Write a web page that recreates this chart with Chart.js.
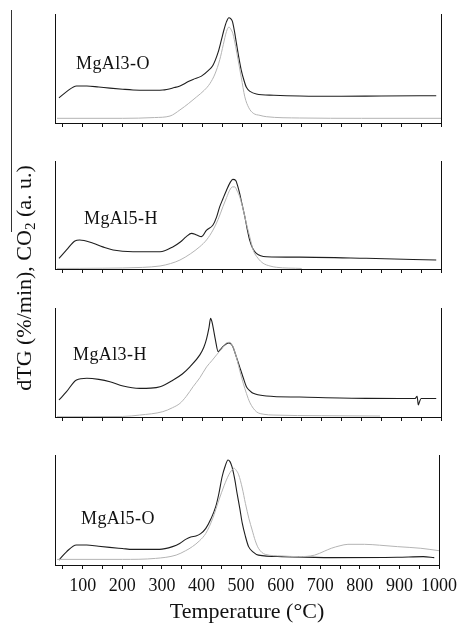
<!DOCTYPE html>
<html>
<head>
<meta charset="utf-8">
<script src="https://cdn.jsdelivr.net/npm/chart.js@4.4.1/dist/chart.umd.min.js"></script>
<style>
  body { margin: 0; background: #fff; }
  #fig { position: relative; width: 463px; height: 623px; overflow: hidden; font-family: "Liberation Serif", serif; }
  #fig canvas { position: absolute; left: 0; }
  #ytitle {
    position: absolute; left: 24px; top: 278px; white-space: nowrap;
    transform: translate(-50%, -50%) rotate(-90deg);
    font-size: 22px; color: #111;
  }
  #ytitle sub { font-size: 15px; vertical-align: -4px; line-height: 0; }
  #edge { position: absolute; left: 11px; top: 10px; width: 0; height: 222px; border-left: 1px solid #333; }
</style>
</head>
<body>
<div id="fig">
  <canvas id="p1" width="463" height="121" style="top:10px"></canvas>
  <canvas id="p2" width="463" height="120" style="top:157px"></canvas>
  <canvas id="p3" width="463" height="121" style="top:304px"></canvas>
  <canvas id="p4" width="463" height="172" style="top:451px"></canvas>
  <div id="edge"></div>
  <div id="ytitle">dTG (%/min), CO<sub>2</sub> (a. u.)</div>
</div>
<script>
// curves are scaled 0-100 within each panel (arbitrary units)

// MgAl3-O
const t3O_dtg = [40, 60, 84, 110, 140, 168, 200, 226, 260, 301, 330, 344, 365, 377, 398, 415, 427, 440, 448, 455, 461, 467, 472, 476, 481, 486, 492, 498, 505, 511, 520, 536, 580, 645, 750, 850, 988];
const v3O_dtg = [23, 29, 34, 34, 33, 32, 31, 30.3, 30, 30.3, 32.5, 34, 38, 40, 43, 48, 53, 65, 76, 86, 93, 96.6, 95.5, 93, 84, 73, 60, 48.6, 39, 32.7, 29, 26.6, 25.5, 24.8, 24.5, 24.8, 25];
const t3O_co2 = [35, 200, 280, 319, 344, 366, 386, 405, 419, 432, 444, 453, 461, 467, 472, 477, 484, 490, 498, 507, 517, 528, 545, 561, 645, 800, 1000];
const v3O_co2 = [4.3, 4.3, 5, 6.4, 12, 18, 24, 30, 36, 45, 58, 72, 84, 88, 86, 82, 70, 58, 42, 24, 14, 9, 7, 5.8, 4.6, 4.3, 4.3];

// MgAl5-H
const t5H_dtg = [40, 59, 80, 92, 126, 150, 176, 226, 294, 327, 345, 360, 373, 386, 398, 411, 427, 436, 444, 452, 461, 470, 477, 484, 489, 494, 500, 507, 513, 519, 527, 536, 561, 645, 812, 988];
const v5H_dtg = [9.9, 17.6, 26, 26.9, 23.8, 20.5, 17.6, 16, 16, 20.7, 25, 30, 33, 31.5, 30, 36, 40.7, 48, 57.7, 65, 73, 80, 83, 82, 77, 70, 60, 48.5, 37, 26.9, 19, 14.5, 11.4, 11, 9.9, 8.3];
const t5H_co2 = [35, 150, 250, 294, 320, 344, 370, 394, 411, 427, 440, 452, 461, 469, 476, 482, 488, 494, 503, 511, 520, 528, 540, 553, 570, 586, 650];
const v5H_co2 = [0.5, 0.7, 1.5, 2.8, 5, 8.3, 14, 20.7, 27, 36, 46, 57.7, 66, 73, 76, 76, 72, 67, 55, 42, 29, 17.6, 10, 5.3, 2.8, 1.6, 0.5];

// MgAl3-H
const t3H_dtg = [40, 59, 84, 110, 140, 168, 201, 243, 270, 294, 327, 350, 369, 394, 404, 411, 417, 421, 424, 427, 433, 440, 446, 452, 460, 467, 472, 477, 485, 494, 503, 511, 520, 528, 561, 645, 812, 935, 940, 943, 946, 950, 988];
const v3H_dtg = [15.6, 23.2, 34, 35.5, 34.5, 32.4, 28.4, 26.3, 26.5, 27.8, 34, 39.5, 46, 57, 64, 72, 82, 90.5, 88, 83, 71, 60, 62, 64.5, 67, 68, 67, 64.5, 56, 46, 36, 27.8, 24, 21.7, 19.3, 18.3, 17.1, 17, 19, 11, 14, 17, 17];
const t3H_co2 = [35, 200, 243, 301, 325, 344, 360, 377, 394, 411, 425, 436, 450, 461, 469, 477, 485, 494, 503, 511, 520, 536, 555, 578, 700, 847];
const v3H_co2 = [0.3, 0.5, 1.8, 4.9, 8.5, 12.5, 19, 27.8, 36, 46, 52, 57, 63, 68, 68.5, 64.5, 56, 43, 31, 21.7, 13, 4.9, 2.5, 1.8, 1.2, 0.9];

// MgAl5-O
const t5O_dtg = [40, 59, 84, 110, 140, 168, 200, 226, 294, 327, 345, 360, 373, 386, 398, 411, 424, 436, 444, 452, 460, 467, 472, 477, 484, 490, 497, 503, 511, 519, 530, 544, 603, 728, 895, 960, 988];
const v5O_dtg = [4.5, 12, 18.2, 18.2, 17, 16, 15, 14.2, 14.2, 16.7, 19.5, 23.3, 25.5, 26.4, 28.5, 33.3, 42, 53, 65, 80, 90, 95.5, 94, 89.4, 78, 65, 51, 38, 26, 16.7, 12, 9, 7.6, 6.7, 7, 7.6, 6.7];
const t5O_co2 = [35, 200, 284, 336, 360, 377, 395, 411, 428, 444, 457, 469, 476, 482, 488, 494, 503, 511, 520, 528, 536, 544, 561, 603, 645, 686, 710, 728, 750, 770, 812, 850, 895, 954, 1000];
const v5O_co2 = [5.1, 5.1, 6, 9, 13, 16.7, 22, 28.8, 42, 59, 72, 82, 86, 88, 86, 82, 70, 56, 42, 31.8, 22, 15.2, 9.7, 8.2, 7.6, 9, 12.5, 15.2, 17.5, 18.8, 18.8, 18, 16.7, 15.2, 13];

const sampleNames = ["MgAl3-O", "MgAl5-H", "MgAl3-H", "MgAl5-O"];
const xMin = 30, xMax = 1000;
const xTickValues = [50, 100, 150, 200, 250, 300, 350, 400, 450, 500, 550, 600, 650, 700, 750, 800, 850, 900, 950, 1000];

const SERIF = '"Liberation Serif", "Times New Roman", serif';

function pares(ts, vs) {
  return ts.map((t, i) => ({ x: t, y: vs[i] }));
}

// panel name written inside the plot area
const nomePlugin = {
  id: "nome",
  afterDatasetsDraw(chart, args, opts) {
    const ctx = chart.ctx;
    ctx.save();
    ctx.font = "18px " + SERIF;
    ctx.letterSpacing = "0.4px";
    ctx.fillStyle = "#111";
    ctx.textBaseline = "middle";
    ctx.fillText(opts.text, chart.chartArea.left + opts.dx, chart.chartArea.top + opts.dy);
    ctx.restore();
  }
};

function gerarPainel(id, nome, dtg, co2, pos, ultimo) {
  const ctx = document.getElementById(id).getContext("2d");
  new Chart(ctx, {
    type: "line",
    data: {
      datasets: [
        { label: "CO2", data: co2, borderColor: "#b4b4b4", borderWidth: 1, pointRadius: 0, cubicInterpolationMode: "monotone" },
        { label: "dTG", data: dtg, borderColor: "#1e1e1e", borderWidth: 1.1, pointRadius: 0, cubicInterpolationMode: "monotone" }
      ]
    },
    options: {
      responsive: false,
      animation: false,
      layout: { padding: { left: 55, right: 22, top: 4, bottom: 0 } },
      plugins: {
        legend: { display: false },
        tooltip: { enabled: false },
        nome: { text: nome, dx: pos[0], dy: pos[1] }
      },
      scales: {
        x: {
          type: "linear",
          min: xMin,
          max: xMax,
          afterBuildTicks: s => { s.ticks = xTickValues.map(v => ({ value: v })); },
          afterFit: s => { s.height = ultimo ? 58 : 8; },
          border: { display: true, color: "#111", width: 1 },
          grid: { drawOnChartArea: false, drawTicks: true, tickLength: 4, color: "#111" },
          ticks: {
            display: ultimo,
            autoSkip: false,
            maxRotation: 0,
            padding: 6,
            color: "#111",
            font: { family: SERIF, size: 18 },
            callback: v => (v % 100 === 0 ? String(v) : "")
          },
          title: {
            display: ultimo,
            text: "Temperature (°C)",
            color: "#111",
            padding: { top: 0, bottom: 0 },
            font: { family: SERIF, size: 22, lineHeight: 1 }
          }
        },
        y: {
          position: "left",
          min: 0,
          max: 100,
          afterFit: s => { s.width = 0; },
          border: { display: true, color: "#111", width: 1 },
          grid: { drawOnChartArea: false, drawTicks: false },
          ticks: { display: false }
        },
        y2: {
          position: "right",
          min: 0,
          max: 100,
          afterFit: s => { s.width = 0; },
          border: { display: true, color: "#111", width: 1 },
          grid: { drawOnChartArea: false, drawTicks: false },
          ticks: { display: false }
        }
      }
    },
    plugins: [nomePlugin]
  });
}

window.addEventListener("DOMContentLoaded", () => {
  gerarPainel("p1", sampleNames[0], pares(t3O_dtg, v3O_dtg), pares(t3O_co2, v3O_co2), [21, 50], false);
  gerarPainel("p2", sampleNames[1], pares(t5H_dtg, v5H_dtg), pares(t5H_co2, v5H_co2), [29, 58], false);
  gerarPainel("p3", sampleNames[2], pares(t3H_dtg, v3H_dtg), pares(t3H_co2, v3H_co2), [18, 47], false);
  gerarPainel("p4", sampleNames[3], pares(t5O_dtg, v5O_dtg), pares(t5O_co2, v5O_co2), [26, 64], true);
});
</script>
</body>
</html>
